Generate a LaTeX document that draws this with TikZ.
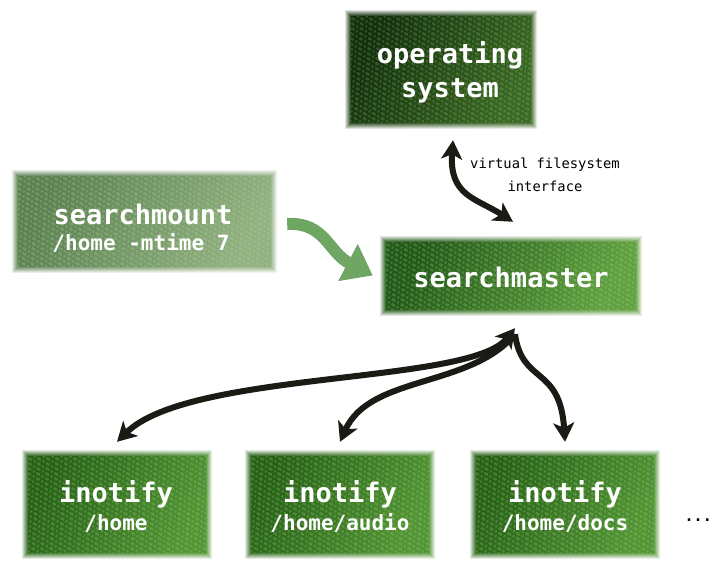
\documentclass[tikz,border=0pt]{standalone}
\usepackage{fontspec}
\setmonofont{DejaVu Sans Mono}
\usetikzlibrary{arrows.meta}
\definecolor{osdark}{RGB}{18,46,12}
\definecolor{oslight}{RGB}{58,104,36}
\definecolor{smdark}{RGB}{34,88,24}
\definecolor{smlight}{RGB}{96,160,64}
\definecolor{inodark}{RGB}{38,96,22}
\definecolor{inolight}{RGB}{82,148,52}
\definecolor{mtdark}{RGB}{92,128,82}
\definecolor{mtlight}{RGB}{146,176,130}
\definecolor{garrow}{RGB}{112,166,100}
\definecolor{texture}{RGB}{175,225,150}
\definecolor{ink}{RGB}{28,26,20}
% soft-edged box: name, x, y, half width, half height, dark, light, texture opacity
\newcommand\softbox[8]{%
  \foreach \d/\o in {6/.14,5/.16,4/.21,3/.25,2/.33,1/.48}{%
    \shade[left color=#6,right color=#7,shading angle=60,opacity=\o]
      ({#2-#4-\d},{#3-#5-\d}) rectangle ({#2+#4+\d},{#3+#5+\d});}%
  \shade[left color=#6,right color=#7,shading angle=60,
    path picture={%
      \foreach \k in {-300,-291,...,320}
        \draw[texture,opacity=#8,line width=2.4pt,dash pattern=on 2pt off 2pt on 4pt off 2pt]
          ([xshift=\k pt]path picture bounding box.north west) -- ++(330,190);}]
    ({#2-#4},{#3-#5}) rectangle ({#2+#4},{#3+#5});
  \node[inner sep=0pt,minimum width={2*#4*1pt},minimum height={2*#5*1pt}] (#1) at (#2,#3) {};}
\tikzset{
  bigtext/.style={anchor=base,inner sep=0pt,text=white,
    font=\ttfamily\bfseries\fontsize{27}{32}\selectfont},
  subtext/.style={anchor=base,inner sep=0pt,text=white,
    font=\ttfamily\bfseries\fontsize{21}{26}\selectfont},
  tip/.tip={Stealth[length=19pt,width=21pt,inset=5pt]},
  link/.style={line width=6pt,draw=ink,tip-tip},
  onehead/.style={line width=6pt,draw=ink,-tip},
  vlabel/.style={anchor=base,inner sep=0pt,font=\ttfamily\fontsize{13.8}{18}\selectfont,text=black}
}
\begin{document}
\begin{tikzpicture}[x=1pt,y=-1pt]
\useasboundingbox (0,0) rectangle (712,563);

% boxes
\softbox{os}{441}{69}{90}{53}{osdark}{oslight}{.2}
\softbox{mount}{144.5}{221}{126.5}{45}{mtdark}{mtlight}{.26}
\softbox{master}{511}{275.5}{125}{33.5}{smdark}{smlight}{.23}
\softbox{ino1}{117}{504}{89}{48}{inodark}{inolight}{.23}
\softbox{ino2}{340}{504}{89}{48}{inodark}{inolight}{.23}
\softbox{ino3}{565}{504}{89}{48}{inodark}{inolight}{.23}

% texts
\node[bigtext] (os1) at (450,63) {operating};
\node[bigtext] (os2) at (450,97) {system};
\node[bigtext] (mt1) at (143,224) {searchmount};
\node[subtext] (mt2) at (141,250) {/home -mtime 7};
\node[bigtext] (sm1) at (511,287) {searchmaster};
\node[bigtext] (in1a) at (116,502) {inotify};
\node[subtext] (in1b) at (116,530) {/home};
\node[bigtext] (in2a) at (340,502) {inotify};
\node[subtext] (in2b) at (340,530) {/home/audio};
\node[bigtext] (in3a) at (565,502) {inotify};
\node[subtext] (in3b) at (565,530) {/home/docs};
\node[anchor=base east,inner sep=0pt,font=\ttfamily\bfseries\fontsize{15}{18}\selectfont] (more) at (712,521) {...};
\node[vlabel] (vfs1) at (545,168) {virtual filesystem};
\node[vlabel] (vfs2) at (545,191) {interface};

% VFS connector
\coordinate (ostip) at ([xshift=12pt,yshift=-18pt]os.south);
\coordinate (mtopt) at ([xshift=2pt,yshift=20pt]master.north);
\draw[link] (ostip) .. controls (449,196) and (476,198) .. (mtopt);

% searchmount -> searchmaster
\coordinate (gstart) at ([xshift=16pt,yshift=-3pt]mount.east);
\coordinate (gend) at ([xshift=-13pt]master.west);
\draw[line width=12pt,draw=garrow,-{Triangle[length=28pt,width=40pt]}]
  (gstart) .. controls (325,222) and (328,252) .. (gend);

% searchmaster <-> inotify
\coordinate (mbot) at ([xshift=4pt,yshift=-19pt]master.south);
\coordinate (t1) at ([yshift=14pt]ino1.north);
\coordinate (t2) at ([yshift=14pt]ino2.north);
\coordinate (t3) at ([yshift=14pt]ino3.north);
\draw[link] (mbot) .. controls (470,385) and (190,370) .. (t1);
\draw[onehead] ([yshift=-6pt]mbot) .. controls (470,388) and (370,375) .. (t2);
\draw[onehead] ([yshift=-6pt]mbot) .. controls (522,385) and (560,365) .. (t3);
\end{tikzpicture}
\end{document}
